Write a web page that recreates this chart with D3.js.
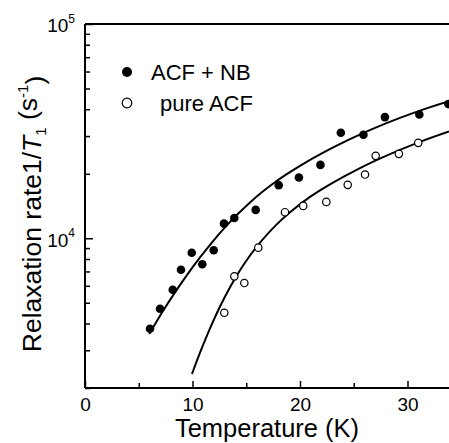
<!DOCTYPE html>
<html>
<head>
<meta charset="utf-8">
<script src="https://cdn.jsdelivr.net/npm/d3@7"></script>
<style>
  body { margin: 0; background: #fff; }
  svg { font-family: "Liberation Sans", Arial, sans-serif; }
</style>
</head>
<body>
<div id="container"></div>
<script>
let w = 449;
let h = 443;

// ACF + NB (filled circles)
let nbTemp = [6.05, 6.98, 8.16, 8.93, 9.93, 10.91, 11.97, 12.93, 13.89, 15.88, 18.02, 19.9, 21.9, 23.8, 25.9, 27.9, 31.1, 33.8];
let nbRate = [3780, 4690, 5750, 7130, 8560, 7560, 8790, 11700, 12440, 13560, 17690, 19200, 22000, 31050, 30390, 36760, 37810, 42290];

// pure ACF (open circles)
let pureTemp = [12.96, 13.89, 14.82, 16.12, 18.6, 20.3, 22.45, 24.44, 26.05, 27.04, 29.2, 31.0];
let pureRate = [4490, 6640, 6180, 9040, 13230, 14160, 14780, 17750, 19830, 24240, 24770, 27880];

// fitted curves
let nbFitTemp = [5.98, 7.21, 8.37, 9.53, 10.7, 11.86, 13.02, 14.19, 15.35, 16.51, 17.67, 18.84, 20.0, 22.33, 24.65, 26.98, 29.3, 31.63, 33.86];
let nbFitRate = [3573, 4537, 5588, 6787, 8139, 9625, 11235, 12933, 14700, 16475, 18250, 20010, 21785, 25350, 28990, 32730, 36450, 40160, 43620];
let pureFitTemp = [9.95, 10.7, 11.63, 12.56, 13.49, 14.42, 15.35, 16.28, 17.67, 19.07, 20.93, 22.79, 25.58, 28.37, 31.16, 33.86];
let pureFitRate = [2325, 2926, 3799, 4802, 5906, 7087, 8307, 9543, 11394, 13230, 15600, 17860, 21260, 24700, 28170, 31500];

let xTicks = [0, 10, 20, 30];
let xMinor = [5, 15, 25];
let yTicks = [1e4, 1e5];
let yMinor = [2000, 3000, 4000, 5000, 6000, 7000, 8000, 9000, 20000, 30000, 40000, 50000, 60000, 70000, 80000, 90000];

let padLeft = 85, padTop = 24, padBottom = 388;

let viz = d3.select("#container")
  .append("svg")
  .attr("width", w)
  .attr("height", h);

let xScale = d3.scaleLinear().domain([0, 34]).range([padLeft, padLeft + 34 * 10.75]);
let yScale = d3.scaleLog().domain([2000, 100000]).range([padBottom, padTop]);

// frame lines
viz.append("line").attr("x1", padLeft).attr("x2", w).attr("y1", padTop).attr("y2", padTop)
  .attr("stroke", "#000").attr("stroke-width", 2);
viz.append("line").attr("x1", padLeft).attr("x2", w).attr("y1", padBottom).attr("y2", padBottom)
  .attr("stroke", "#000").attr("stroke-width", 2);
viz.append("line").attr("x1", padLeft).attr("x2", padLeft).attr("y1", padTop).attr("y2", padBottom)
  .attr("stroke", "#000").attr("stroke-width", 2);

// x axis ticks (inward)
let xAxis = d3.axisBottom(xScale).tickValues(xTicks).tickSize(-7).tickPadding(9.5).tickFormat(d3.format("d"));
let xAxisGroup = viz.append("g").attr("class", "xaxis")
  .attr("transform", "translate(0," + padBottom + ")")
  .call(xAxis);
xAxisGroup.select(".domain").remove();
xAxisGroup.selectAll("line").attr("stroke-width", 1.5);
xAxisGroup.selectAll("text").attr("font-size", 19).attr("fill", "#000");

let xMinorAxis = d3.axisBottom(xScale).tickValues(xMinor).tickSize(-5).tickFormat("");
let xMinorGroup = viz.append("g").attr("transform", "translate(0," + padBottom + ")").call(xMinorAxis);
xMinorGroup.select(".domain").remove();
xMinorGroup.selectAll("line").attr("stroke-width", 1.5);

// y axis ticks (inward)
let yAxis = d3.axisLeft(yScale).tickValues(yTicks).tickSize(-8).tickFormat("");
let yAxisGroup = viz.append("g").attr("class", "yaxis")
  .attr("transform", "translate(" + padLeft + ",0)")
  .call(yAxis);
yAxisGroup.select(".domain").remove();
yAxisGroup.selectAll("line").attr("stroke-width", 1.5);
yAxisGroup.selectAll(".tick").append("text")
  .attr("x", -10).attr("dy", "0.42em")
  .attr("text-anchor", "end")
  .attr("fill", "#000")
  .attr("font-size", 19)
  .each(function (d) {
    let t = d3.select(this);
    t.append("tspan").text("10");
    t.append("tspan").attr("font-size", 12).attr("dy", "-0.8em").text(Math.round(Math.log10(d)));
  });

let yMinorAxis = d3.axisLeft(yScale).tickValues(yMinor).tickSize(-5).tickFormat("");
let yMinorGroup = viz.append("g").attr("transform", "translate(" + padLeft + ",0)").call(yMinorAxis);
yMinorGroup.select(".domain").remove();
yMinorGroup.selectAll("line").attr("stroke-width", 1.5);

// axis titles
viz.append("text")
  .attr("x", 267).attr("y", 437)
  .attr("text-anchor", "middle")
  .attr("font-size", 25.5)
  .text("Temperature (K)");

let yTitle = viz.append("text")
  .attr("transform", "translate(41,214) rotate(-90)")
  .attr("text-anchor", "middle")
  .attr("font-size", 26.5);
yTitle.append("tspan").text("Relaxation rate1/");
yTitle.append("tspan").attr("font-style", "italic").text("T");
yTitle.append("tspan").attr("font-size", 15).attr("dy", "0.35em").text("1");
yTitle.append("tspan").attr("dy", "-0.35em").text(" (s");
yTitle.append("tspan").attr("font-size", 15).attr("dy", "-0.6em").text("-1");
yTitle.append("tspan").attr("dy", "0.6em").text(")");

// fitted curves
let line = d3.line()
  .x(function (d) { return xScale(d[0]); })
  .y(function (d) { return yScale(d[1]); })
  .curve(d3.curveCatmullRom.alpha(0.5));

viz.append("path")
  .datum(d3.zip(nbFitTemp, nbFitRate))
  .attr("d", line)
  .attr("fill", "none").attr("stroke", "#000").attr("stroke-width", 2);
viz.append("path")
  .datum(d3.zip(pureFitTemp, pureFitRate))
  .attr("d", line)
  .attr("fill", "none").attr("stroke", "#000").attr("stroke-width", 2);

// data points
viz.selectAll(".nb")
  .data(d3.zip(nbTemp, nbRate))
  .enter()
  .append("circle")
  .attr("class", "nb")
  .attr("cx", function (d) { return xScale(d[0]); })
  .attr("cy", function (d) { return yScale(d[1]); })
  .attr("r", 4.3)
  .attr("fill", "#000");

viz.selectAll(".pure")
  .data(d3.zip(pureTemp, pureRate))
  .enter()
  .append("circle")
  .attr("class", "pure")
  .attr("cx", function (d) { return xScale(d[0]); })
  .attr("cy", function (d) { return yScale(d[1]); })
  .attr("r", 3.7)
  .attr("fill", "#fff")
  .attr("stroke", "#000")
  .attr("stroke-width", 1.2);

// legend
viz.append("circle").attr("cx", 127).attr("cy", 72).attr("r", 5).attr("fill", "#000");
viz.append("text").attr("x", 151).attr("y", 80).attr("font-size", 22).text("ACF + NB");
viz.append("circle").attr("cx", 127).attr("cy", 103).attr("r", 4.8)
  .attr("fill", "#fff").attr("stroke", "#000").attr("stroke-width", 1.2);
viz.append("text").attr("x", 160).attr("y", 111).attr("font-size", 22).text("pure ACF");
</script>
</body>
</html>
